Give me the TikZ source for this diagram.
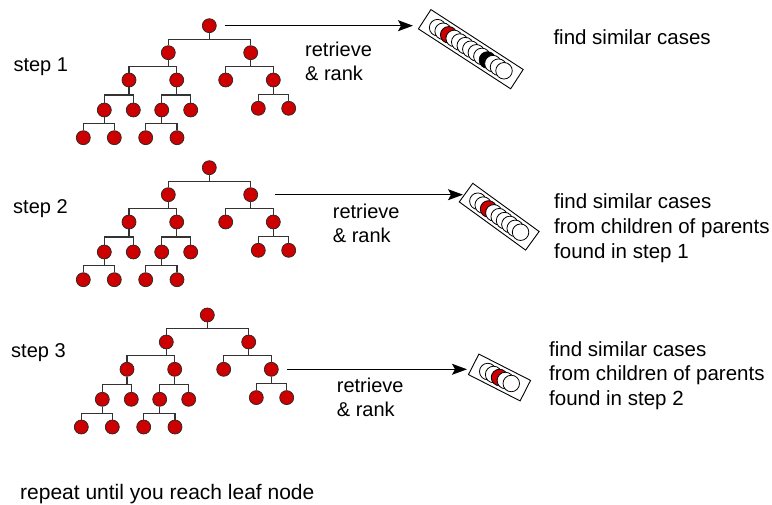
\documentclass[tikz,border=0pt]{standalone}
\usepackage{fontspec}
\setmainfont{Liberation Sans}
\usetikzlibrary{calc,arrows.meta}
\definecolor{nodered}{RGB}{204,0,0}
\newcommand\casetree[3]{%
  \begin{scope}[shift={(#2,#3)}]
    \node[tn] (#1r)    at (209.3,25.7) {};
    \node[tn] (#1a)    at (168.3,52.7) {};
    \node[tn] (#1b)    at (250.7,52.7) {};
    \node[tn] (#1aa)   at (129,80) {};
    \node[tn] (#1ab)   at (176.7,80) {};
    \node[tn] (#1ba)   at (225.7,80) {};
    \node[tn] (#1bb)   at (273.3,80) {};
    \node[tn] (#1aaa)  at (104.3,110) {};
    \node[tn] (#1aab)  at (133.3,110) {};
    \node[tn] (#1aba)  at (161.7,110) {};
    \node[tn] (#1abb)  at (190.7,110) {};
    \node[tn] (#1bba)  at (258.3,108.3) {};
    \node[tn] (#1bbb)  at (288.7,108.3) {};
    \node[tn] (#1aaaa) at (83.3,137.7) {};
    \node[tn] (#1aaab) at (114.3,137.7) {};
    \node[tn] (#1abaa) at (145.7,137.7) {};
    \node[tn] (#1abab) at (177,137.7) {};
    \foreach \p/\c in {r/a,r/b,a/aa,a/ab,b/ba,b/bb,aa/aaa,aa/aab,ab/aba,ab/abb,bb/bba,bb/bbb,aaa/aaaa,aaa/aaab,aba/abaa,aba/abab}
      \draw[te] (#1\p.south) |- ($(#1\p.south)!.5!(#1\c.north)$) -| (#1\c.north);
  \end{scope}}
% name, centre, length, angle, count, red index, black index
\newcommand\rankedlist[7]{%
  \node[listbox, minimum width=#3pt, rotate=#4] (#1) at #2 {};
  \foreach \i in {1,...,#5}{%
    \ifnum\i=#6 \def\cfill{nodered}\else\ifnum\i=#7 \def\cfill{black}\else\def\cfill{white}\fi\fi
    \node[listc, fill=\cfill] (#1c\i) at ($(#1.center)!{(\i-(#5+1)/2)*6.6pt}!(#1.east)$) {};
  }}
\begin{document}
\begin{tikzpicture}[x=1pt,y=-1pt,
  tn/.style={circle, draw=black!85, fill=nodered, line width=0.7pt, minimum size=14pt, inner sep=0pt},
  te/.style={draw=black!80, line width=1.1pt},
  listbox/.style={draw, line width=0.9pt, minimum height=23pt, inner sep=0pt},
  listc/.style={circle, draw, line width=0.8pt, minimum size=16.5pt, inner sep=0pt},
  lbl/.style={font=\fontsize{20}{24}\selectfont, inner sep=0pt, align=left, anchor=base west},
  desc/.style={font=\fontsize{20.5}{25}\selectfont, inner sep=0pt, align=left, anchor=base west},
  rankarrow/.style={-{Stealth[length=15pt,width=11pt,inset=3pt]}, line width=1.1pt}]
\useasboundingbox (0,0) rectangle (772,505);

\casetree{A}{0}{0}
\casetree{B}{0}{142}
\casetree{C}{-2}{289.3}

\rankedlist{L1}{(470.8,49.2)}{110}{-33}{13}{3}{10}
\rankedlist{L2}{(499.2,216.7)}{82}{-36}{9}{3}{0}
\rankedlist{L3}{(499.5,377.5)}{58}{-27}{5}{3}{0}

\coordinate (E1) at (413,28);
\coordinate (E2) at (463,195);
\coordinate (E3) at (467,368.3);
\draw[rankarrow] ([xshift=8pt]Ar.east) -- (Ar.east -| E1);
\draw[rankarrow] ([xshift=17pt]Bb.east) -- (Bb.east -| E2);
\draw[rankarrow] ([xshift=8pt]Cbb.east) -- (Cbb.east -| E3);

\node[lbl] (s1) at (13.3,71.7) {step 1};
\node[lbl] (s2) at (13,214) {step 2};
\node[lbl] (s3) at (11,358) {step 3};

% base anchor of a multi-line node is the baseline of its last line
\node[lbl] (r1) at (305,80.5) {retrieve\\\& rank};
\node[lbl] (r2) at (332.7,242.8) {retrieve\\\& rank};
\node[lbl] (r3) at (336.7,416.2) {retrieve\\\& rank};

\node[desc] (d1) at (553.3,44.3) {find similar cases};
\node[desc] (d2) at (554,258.5) {find similar cases\\from children of parents\\found in step 1};
\node[desc] (d3) at (549,406) {find similar cases\\from children of parents\\found in step 2};

\node[lbl, font=\fontsize{21}{25}\selectfont] (rep) at (20,499) {repeat until you reach leaf node};
\end{tikzpicture}
\end{document}
